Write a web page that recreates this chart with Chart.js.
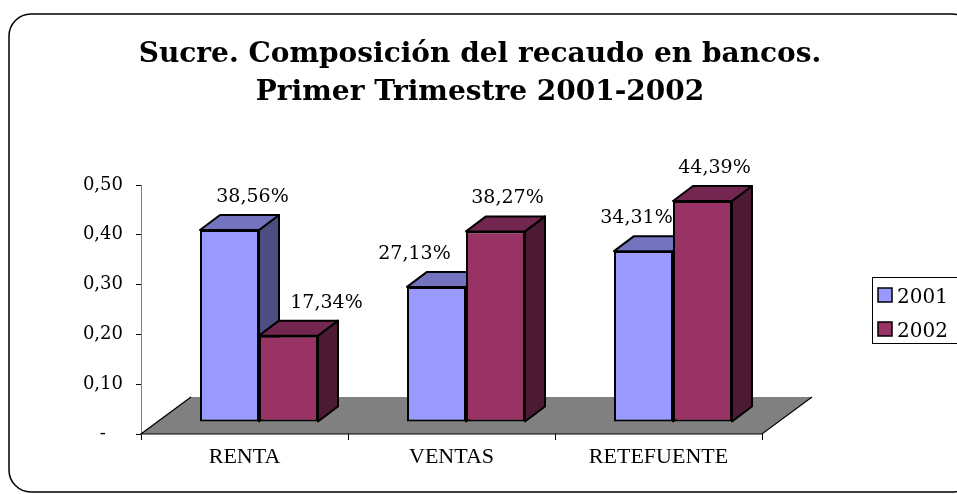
<!DOCTYPE html>
<html>
<head>
<meta charset="utf-8">
<script src="https://cdn.jsdelivr.net/npm/chart.js@4.4.1/dist/chart.umd.min.js"></script>
<style>
  html, body { margin: 0; padding: 0; background: #fff; }
  #wrap { width: 957px; height: 494px; position: relative; }
</style>
</head>
<body>
<div id="wrap"><canvas id="chart"></canvas></div>
<script>
// --- DATA ---
const titleLines = ['Sucre. Composición del recaudo en bancos.', 'Primer Trimestre 2001-2002'];
const categories = ['RENTA', 'VENTAS', 'RETEFUENTE'];
const seriesNames = ['2001', '2002'];
const values2001 = [0.3856, 0.2713, 0.3431];
const values2002 = [0.1734, 0.3827, 0.4439];
const yTicks = [0, 0.1, 0.2, 0.3, 0.4, 0.5];

// label nudges (px, relative to bar front centre)
const labelShift2001 = [23, -22, -7];
const labelShift2002 = [38, 12, 12];

// 3D look
const FRONT = { x: 14.5, y: -12 };   // bar front plane offset from axis plane
const DEPTH = { x: 20, y: -15 };     // bar depth
const FLOOR = { x: 50, y: -37 };     // floor depth
const faceColors = [
    { front: '#9999FF', top: '#7373C0', side: '#4D4D80' },
    { front: '#993366', top: '#732650', side: '#4D1A33' }
];

const fmtPct = v => (v * 100).toFixed(2).replace('.', ',') + '%';
const fmtTick = v => v === 0 ? '-   ' : v.toFixed(2).replace('.', ',');

// --- PLUGIN: frame, floor, 3D faces, labels, title, legend ---
const bars3d = {
    id: 'bars3d',
    beforeDraw(chart) {
        const ctx = chart.ctx;
        ctx.save();
        ctx.fillStyle = '#fff';
        ctx.fillRect(0, 0, chart.width, chart.height);
        ctx.beginPath();
        ctx.roundRect(9, 14, 965, 478, 22);
        ctx.lineWidth = 1.5;
        ctx.strokeStyle = '#000';
        ctx.stroke();
        ctx.restore();
    },
    beforeDatasetsDraw(chart) {
        const ctx = chart.ctx;
        const a = chart.chartArea;
        // floor
        ctx.save();
        ctx.beginPath();
        ctx.moveTo(a.left, a.bottom);
        ctx.lineTo(a.right, a.bottom);
        ctx.lineTo(a.right + FLOOR.x, a.bottom + FLOOR.y);
        ctx.lineTo(a.left + FLOOR.x, a.bottom + FLOOR.y);
        ctx.closePath();
        ctx.fillStyle = '#808080';
        ctx.fill();
        ctx.beginPath();
        ctx.moveTo(a.left + FLOOR.x, a.bottom + FLOOR.y);
        ctx.lineTo(a.left, a.bottom);
        ctx.lineTo(a.right, a.bottom);
        ctx.lineTo(a.right + FLOOR.x, a.bottom + FLOOR.y);
        ctx.strokeStyle = '#000';
        ctx.lineWidth = 1.2;
        ctx.stroke();
        ctx.restore();

        // shift bar plane, then draw side + top faces behind the fronts
        ctx.save();
        ctx.translate(FRONT.x, FRONT.y);
        ctx.lineWidth = 2;
        ctx.strokeStyle = '#000';
        ctx.lineJoin = 'round';
        chart.data.datasets.forEach((ds, d) => {
            chart.getDatasetMeta(d).data.forEach(bar => {
                const { x, y, base, width } = bar.getProps(['x', 'y', 'base', 'width'], true);
                const l = x - width / 2, r = x + width / 2;
                // side
                ctx.beginPath();
                ctx.moveTo(r, y);
                ctx.lineTo(r + DEPTH.x, y + DEPTH.y);
                ctx.lineTo(r + DEPTH.x, base + DEPTH.y);
                ctx.lineTo(r, base);
                ctx.closePath();
                ctx.fillStyle = faceColors[d].side;
                ctx.fill();
                ctx.stroke();
                // top
                ctx.beginPath();
                ctx.moveTo(l, y);
                ctx.lineTo(l + DEPTH.x, y + DEPTH.y);
                ctx.lineTo(r + DEPTH.x, y + DEPTH.y);
                ctx.lineTo(r, y);
                ctx.closePath();
                ctx.fillStyle = faceColors[d].top;
                ctx.fill();
                ctx.stroke();
            });
        });
    },
    afterDatasetsDraw(chart) {
        const ctx = chart.ctx;
        ctx.restore();
        ctx.save();
        ctx.font = '19px "DejaVu Serif"';
        ctx.fillStyle = '#000';
        ctx.textAlign = 'center';
        ctx.textBaseline = 'middle';
        const shifts = [labelShift2001, labelShift2002];
        chart.data.datasets.forEach((ds, d) => {
            chart.getDatasetMeta(d).data.forEach((bar, i) => {
                const { x, y } = bar.getProps(['x', 'y'], true);
                ctx.fillText(fmtPct(ds.data[i]), x + FRONT.x + shifts[d][i], y + FRONT.y - 33);
            });
        });
        ctx.restore();
    },
    afterDraw(chart) {
        const ctx = chart.ctx;
        ctx.save();
        // title
        ctx.fillStyle = '#000';
        ctx.font = 'bold 28px "DejaVu Serif"';
        ctx.textAlign = 'center';
        ctx.textBaseline = 'alphabetic';
        ctx.fillText(titleLines[0], 480, 62);
        ctx.fillText(titleLines[1], 480, 100);
        // legend
        ctx.lineWidth = 1;
        ctx.strokeStyle = '#000';
        ctx.strokeRect(872.5, 277.5, 100, 66);
        ctx.font = '20px "DejaVu Serif"';
        ctx.textAlign = 'left';
        chart.data.datasets.forEach((ds, d) => {
            const top = 288 + d * 34;
            ctx.fillStyle = ds.backgroundColor;
            ctx.fillRect(878, top, 14, 14);
            ctx.lineWidth = 1.5;
            ctx.strokeRect(878, top, 14, 14);
            ctx.fillStyle = '#000';
            ctx.fillText(ds.label, 897, top + 15);
        });
        ctx.restore();
    }
};

// --- CHART ---
const ctx = document.getElementById('chart').getContext('2d');
const chart = new Chart(ctx, {
    type: 'bar',
    data: {
        labels: categories,
        datasets: [
            { label: seriesNames[0], data: values2001, backgroundColor: faceColors[0].front },
            { label: seriesNames[1], data: values2002, backgroundColor: faceColors[1].front }
        ]
    },
    options: {
        responsive: true,
        maintainAspectRatio: false,
        animation: false,
        layout: { padding: { left: 20, right: 195, top: 185, bottom: 0 } },
        datasets: {
            bar: {
                categoryPercentage: 0.57,
                barPercentage: 1.0,
                borderColor: '#000',
                borderWidth: 2,
                borderSkipped: false,
                clip: false
            }
        },
        plugins: {
            legend: { display: false },
            title: { display: false },
            tooltip: { enabled: false }
        },
        scales: {
            x: {
                afterFit: s => { s.height = 60; },
                grid: { display: true, drawOnChartArea: false, drawTicks: true, tickLength: 6, color: '#000', offset: true },
                border: { display: false },
                ticks: { font: { family: '"Liberation Serif"', size: 22 }, color: '#000', padding: 4 }
            },
            y: {
                min: 0,
                max: 0.5,
                afterFit: s => { s.width = 121; },
                afterBuildTicks: s => { s.ticks = yTicks.map(v => ({ value: v })); },
                grid: { drawOnChartArea: false, drawTicks: true, tickLength: 5, color: '#000' },
                border: { display: true, color: '#808080', width: 1 },
                ticks: {
                    font: { family: '"DejaVu Serif"', size: 18 },
                    color: '#000',
                    padding: 13,
                    callback: v => fmtTick(v)
                }
            }
        }
    },
    plugins: [bars3d]
});
</script>
</body>
</html>
